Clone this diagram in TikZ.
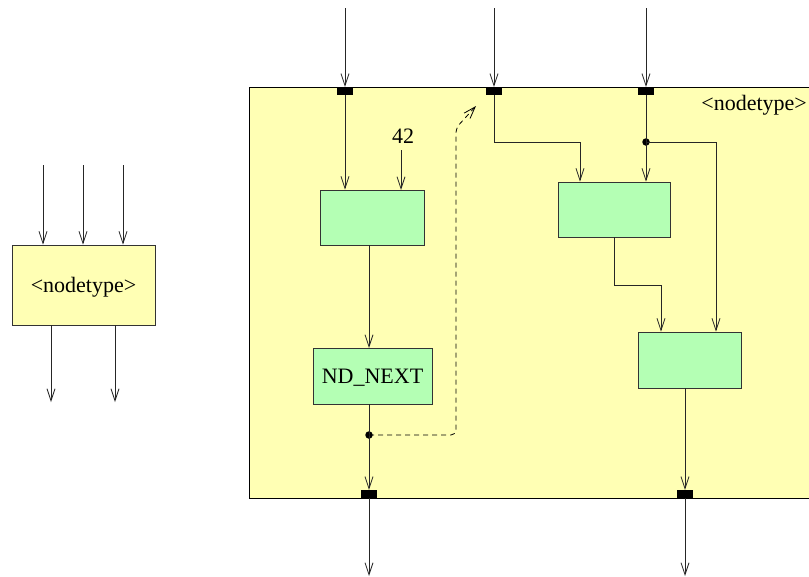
\documentclass[tikz,border=0pt]{standalone}
\usepackage{fontspec}
\setmainfont{Liberation Serif}
\usetikzlibrary{arrows.meta,calc}
\definecolor{ylw}{HTML}{FFFFB4}
\definecolor{grn}{HTML}{B4FFB4}
\definecolor{bord}{HTML}{333333}
\begin{document}
\begin{tikzpicture}[x=1pt,y=-1pt,
  font=\fontsize{22}{26}\selectfont,
  conn/.style={line width=0.8pt,draw=black!85},
  arr/.style={conn,-{Straight Barb[length=12pt,width=8pt,line width=0.8pt]}},
  dsh/.style={arr,draw=black,dashed,dash pattern=on 5pt off 4pt},
  gbox/.style={draw=bord,line width=0.9pt,fill=grn,inner sep=0pt},
  ybox/.style={draw=bord,line width=0.9pt,fill=ylw,inner sep=0pt},
  port/.style={fill=black,minimum width=16pt,minimum height=8pt,inner sep=0pt},
  dot/.style={circle,fill=black,minimum size=7.5pt,inner sep=0pt},
  lbl/.style={inner sep=1pt}]
\clip (0,0) rectangle (809,576);
\fill[white] (0,0) rectangle (809,576);

% ---------- left small node ----------
\node[ybox,minimum width=143pt,minimum height=80pt] (L) at (83.5,285) {};
\node[lbl] (Lt) at (83.5,287) {<nodetype>};
\coordinate (li1) at (43,165);
\coordinate (li2) at (83,165);
\coordinate (li3) at (123,165);
\draw[arr] (li1) -- (li1 |- L.north);
\draw[arr] (li2) -- (li2 |- L.north);
\draw[arr] (li3) -- (li3 |- L.north);
\coordinate (lo1) at (51,402);
\coordinate (lo2) at (115,402);
\draw[arr] (lo1 |- L.south) -- (lo1);
\draw[arr] (lo2 |- L.south) -- (lo2);

% ---------- big node ----------
\node[draw=black,line width=1pt,fill=ylw,minimum width=566pt,minimum height=411pt,inner sep=0pt] (big) at (532,292.5) {};
\node[lbl,anchor=east] (bigl) at (808,105) {<nodetype>};

% ports
\node[port] (p1) at (345,91) {};
\node[port] (p2) at (494,91) {};
\node[port] (p3) at (646,91) {};
\node[port] (q1) at (369,494) {};
\node[port] (q2) at (685,494) {};

% inner nodes
\node[gbox,minimum width=104pt,minimum height=55pt] (A) at (372,217.5) {};
\node[gbox,minimum width=112pt,minimum height=55pt] (B) at (614,209.5) {};
\node[gbox,minimum width=119pt,minimum height=56pt,text depth=0pt] (C) at (372.5,376) {ND\_NEXT};
\node[gbox,minimum width=103pt,minimum height=56pt] (D) at (689.5,360) {};
\node[lbl] (k42) at (403,136) {42};

% top incoming
\coordinate (t1) at (345,8);
\coordinate (t2) at (494,8);
\coordinate (t3) at (646,8);
\draw[arr] (t1) -- (p1.north);
\draw[arr] (t2) -- (p2.north);
\draw[arr] (t3) -- (p3.north);

% inner connectors
\draw[arr] (p1.south) -- (p1.south |- A.north);
\draw[arr] (401,150) -- (401,190);
\coordinate (bB) at (580,142);
\draw[arr] (p2.south) |- (bB) -- (bB |- B.north);
\node[dot] (d3) at (646,142) {};
\draw[arr] (p3.south) -- (p3.south |- B.north);
\coordinate (cD) at (716,142);
\draw[arr] (d3.center) -- (cD) -- (cD |- D.north);
\coordinate (bs) at (614,285);
\coordinate (bd) at (661,285);
\draw[arr] (bs |- B.south) -- (bs) -- (bd) -- (bd |- D.north);
\draw[arr] (369,245) -- (369,348);
\node[dot] (d1) at (369,435) {};
\draw[arr] (369,404) -- (q1.north);
\draw[arr] (685,388) -- (q2.north);

% dashed feedback
\coordinate (dA) at (456,435);
\coordinate (dB) at (456,128);
\coordinate (dC) at (476,106);
\draw[dsh,rounded corners=5pt] (d1.center) -- (dA) -- (dB) -- (dC);

% outgoing
\coordinate (o1) at (369,576);
\coordinate (o2) at (685,576);
\draw[arr] (q1.south) -- (o1);
\draw[arr] (q2.south) -- (o2);
\end{tikzpicture}
\end{document}
